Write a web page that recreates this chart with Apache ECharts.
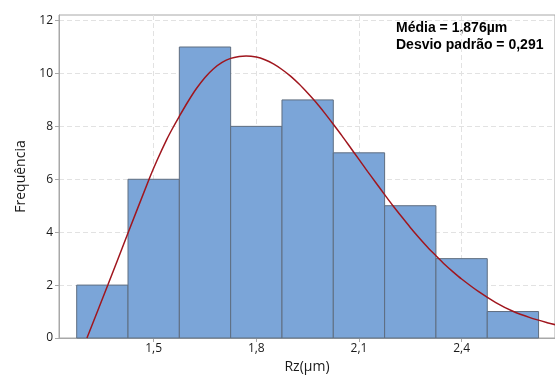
<!DOCTYPE html>
<html>
<head>
<meta charset="utf-8">
<script src="https://cdn.jsdelivr.net/npm/echarts@6/dist/echarts.min.js"></script>
<style>
    html, body { margin: 0; padding: 0; background: #fff; }
    #chart { width: 555px; height: 381px; }
</style>
</head>
<body>
<div id="chart"></div>
<script>
// histogram bins (Rz in µm) and counts
const binEdges = [1.275, 1.425, 1.575, 1.725, 1.875, 2.025, 2.175, 2.325, 2.475, 2.625]
const counts = [2, 6, 11, 8, 9, 7, 5, 3, 1]

// fitted curve
const curveX = [1.305, 1.366, 1.423, 1.488, 1.51, 1.538, 1.555, 1.575, 1.6, 1.625, 1.65, 1.675, 1.7, 1.725, 1.75, 1.77,
    1.8, 1.825, 1.85, 1.875, 1.9, 1.925, 1.95, 1.975, 2.0, 2.025, 2.05, 2.075, 2.1, 2.125, 2.15, 2.175, 2.2, 2.225,
    2.25, 2.275, 2.3, 2.325, 2.35, 2.375, 2.4, 2.45, 2.5, 2.55, 2.6, 2.65, 2.675]
const curveY = [0, 2.0, 3.9, 6.05, 6.72, 7.5, 7.92, 8.38, 8.93, 9.43, 9.85, 10.18, 10.42, 10.57, 10.64, 10.66,
    10.62, 10.52, 10.36, 10.15, 9.9, 9.6, 9.26, 8.9, 8.5, 8.08, 7.65, 7.2, 6.75, 6.3, 5.86, 5.42, 4.99, 4.58,
    4.18, 3.8, 3.44, 3.11, 2.79, 2.5, 2.23, 1.75, 1.34, 1.01, 0.77, 0.58, 0.5]

const xTicks = [1.5, 1.8, 2.1, 2.4]
const yTicks = [0, 2, 4, 6, 8, 10, 12]

const statsText = ['Média = 1,876µm', 'Desvio padrão = 0,291']

const textColor = '#1a1a1a'
const axisColor = '#a8a8a8'
const gridColor = '#e2e2e2'
const fontFamily = '"Open Sans", "Noto Sans", sans-serif'

const bars = counts.map((c, i) => [binEdges[i], binEdges[i + 1], c])
const curve = curveX.map((x, i) => [x, curveY[i]])

const chartInstance = echarts.init(document.getElementById('chart'))

chartInstance.setOption({
    animation: false,
    grid: {
        left: 59,
        right: -2,
        top: 15,
        bottom: 43,
        show: true,
        borderColor: axisColor,
        borderWidth: 1
    },
    xAxis: {
        type: 'value',
        min: 1.2233,
        max: 2.673,
        name: 'Rz(µm)',
        nameLocation: 'middle',
        nameGap: 21,
        nameTextStyle: { fontSize: 14, color: textColor, fontFamily: fontFamily },
        axisLine: { show: true, lineStyle: { color: axisColor } },
        axisTick: { show: true, length: 4, lineStyle: { color: axisColor }, customValues: xTicks },
        axisLabel: {
            color: textColor,
            fontSize: 12,
            fontFamily: fontFamily,
            margin: 5,
            customValues: xTicks,
            formatter: (v) => v.toFixed(1).replace('.', ',')
        },
        splitLine: { show: true, lineStyle: { color: gridColor, type: [5, 3] } }
    },
    yAxis: {
        type: 'value',
        min: 0,
        max: 12.21,
        name: 'Frequência',
        nameLocation: 'middle',
        nameGap: 29,
        nameTextStyle: { fontSize: 14, color: textColor, fontFamily: fontFamily },
        axisLine: { show: true, lineStyle: { color: axisColor } },
        axisTick: { show: true, length: 4, lineStyle: { color: axisColor }, customValues: yTicks },
        axisLabel: {
            color: textColor,
            fontSize: 12,
            fontFamily: fontFamily,
            margin: 6,
            customValues: yTicks
        },
        splitLine: { show: true, lineStyle: { color: gridColor, type: [5, 3] } }
    },
    graphic: statsText.map((t, i) => ({
        type: 'text',
        left: 396,
        top: 21 + i * 17.5,
        style: {
            text: t,
            fill: '#000',
            font: 'bold 14px "Liberation Sans", Arial, sans-serif'
        }
    })),
    series: [
        {
            type: 'custom',
            data: bars,
            encode: { x: [0, 1], y: 2 },
            renderItem: (params, api) => {
                const lo = api.coord([api.value(0), 0])
                const hi = api.coord([api.value(1), api.value(2)])
                return {
                    type: 'rect',
                    shape: { x: lo[0], y: hi[1], width: hi[0] - lo[0], height: lo[1] - hi[1] },
                    style: { fill: '#7ba5d8', stroke: '#5f6e80', lineWidth: 1 }
                }
            }
        },
        {
            type: 'line',
            data: curve,
            smooth: 0.3,
            showSymbol: false,
            lineStyle: { color: '#a0161e', width: 1.5 },
            z: 5
        }
    ]
})
</script>
</body>
</html>
